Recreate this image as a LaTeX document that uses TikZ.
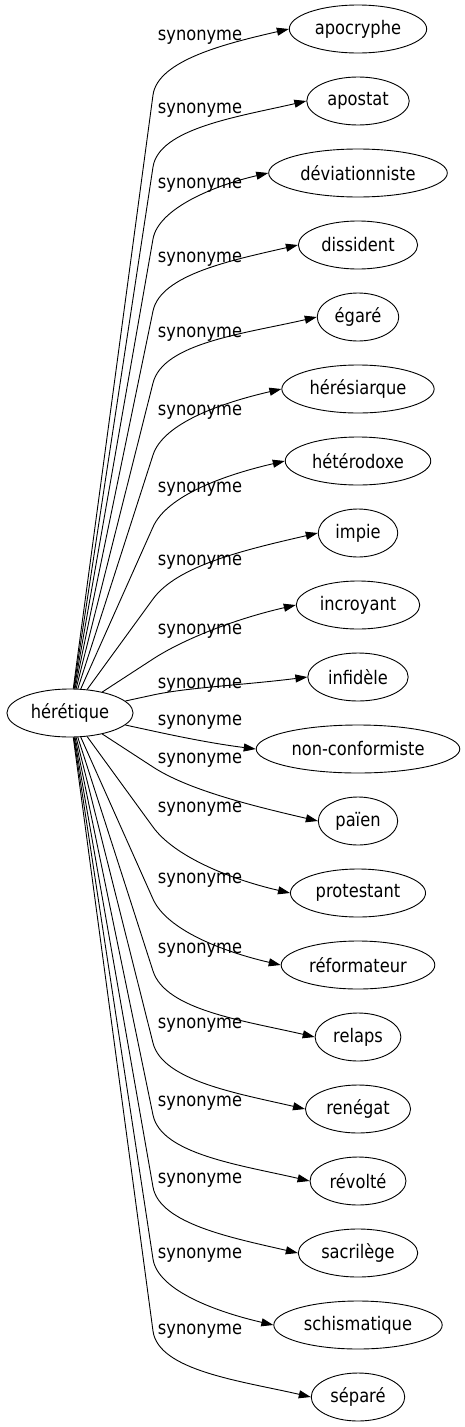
\documentclass[tikz,border=0pt]{standalone}
\usepackage{fontspec}
\setmainfont{DejaVu Sans}[FakeStretch=0.87]
\usetikzlibrary{arrows.meta, shapes.geometric}

\begin{document}
\begin{tikzpicture}[> = {Triangle[length=12pt,width=8pt]}, % arrow head style
                x = 1pt, y = -1pt, % pixel units, y going down
                line width = 0.9pt, % line style
                word/.style = {draw = black, ellipse, minimum height = 48pt,
                    inner xsep = 5.5pt, inner ysep = 0pt,
                    font = \fontsize{18.7}{22}\selectfont},
                syn/.style = {inner sep = 0pt, anchor = base,
                    font = \fontsize{18.7}{22}\selectfont}
            ]
            \useasboundingbox (0,0) rectangle (464,1427);

            \node[word] (her) at (70,713) {hérétique};

            % the synonyms, one every 72pt
            \foreach \w [count=\i from 0] in {apocryphe, apostat, déviationniste,
                dissident, égaré, hérésiarque, hétérodoxe, impie, incroyant,
                infidèle, non-conformiste, païen, protestant, réformateur, relaps,
                renégat, révolté, sacrilège, schismatique, séparé}
                \node[word] (n\i) at (358,{29+72*\i}) {\w};

            % edges (straight up to a bend, then round to the word) and labels
            \foreach \ly [count=\i from 0] in {34, 107, 182, 256, 331, 409, 486,
                559, 628, 682, 719, 757, 806, 877, 947, 1022, 1100, 1177, 1252, 1328} {
                \pgfmathsetmacro\ny{29+72*\i}
                \pgfmathsetmacro\dy{\ny-713}
                \pgfmathsetmacro\ky{\ny-sign(\dy)*min(66,0.5*abs(\dy))}
                \pgfmathsetmacro\ao{atan2(713-\ky,83)}
                \pgfmathsetmacro\ai{180-sign(\dy)*min(13,0.2*abs(\dy))}
                \coordinate (k\i) at (153,\ky);
                \draw[->] (her) -- (k\i) to[out=\ao, in=\ai, out looseness=0.6,
                    in looseness=1.07] (n\i.west);
                \node[syn] (s\i) at (200,\ly+6) {synonyme};
            }
\end{tikzpicture}
\end{document}
